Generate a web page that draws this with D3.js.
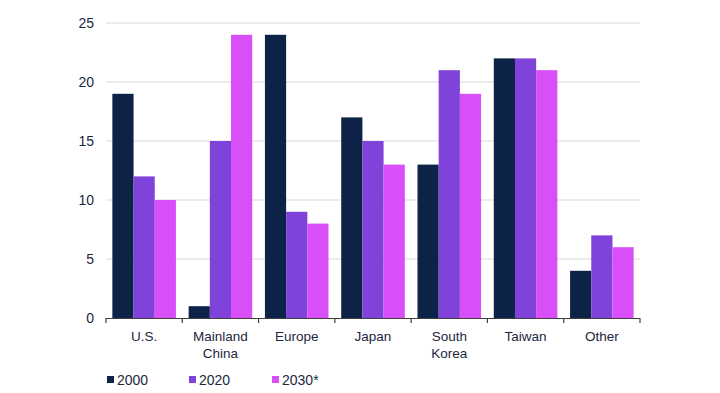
<!DOCTYPE html>
<html>
<head>
<meta charset="utf-8">
<script src="https://cdn.jsdelivr.net/npm/d3@7"></script>
<style>
  body { margin: 0; background: #fff; }
  text { font-family: "Liberation Sans Narrow", "Arial Narrow", "Liberation Sans", Arial, sans-serif; fill: #1b2840; }
</style>
</head>
<body>
<div id="chart"></div>
<script>
// chart data
var regions = ["U.S.", "Mainland China", "Europe", "Japan", "South Korea", "Taiwan", "Other"];
var years = ["2000", "2020", "2030*"];
var share2000 = [19, 1, 24, 17, 13, 22, 4];
var share2020 = [12, 15, 9, 15, 21, 22, 7];
var share2030 = [10, 24, 8, 13, 19, 21, 6];
var yTicks = [0, 5, 10, 15, 20, 25];

var colors = ["#0c2246", "#8043d9", "#d94ff7"];
var seriesVals = [share2000, share2020, share2030];

var width = 720, height = 393;
var margin = {top: 23, right: 80, bottom: 75, left: 106};

var svg = d3.select("#chart").append("svg")
  .attr("width", width)
  .attr("height", height);

var x0 = d3.scaleBand()
  .domain(regions)
  .range([margin.left, width - margin.right])
  .padding(0);

var x1 = d3.scaleBand()
  .domain(years)
  .range([0, x0.bandwidth()])
  .paddingInner(0)
  .paddingOuter(0.3);

var y = d3.scaleLinear()
  .domain([0, 25])
  .range([height - margin.bottom, margin.top]);

// gridlines
svg.append("g")
  .selectAll("line")
  .data(yTicks.slice(1))
  .enter().append("line")
  .attr("x1", margin.left)
  .attr("x2", width - margin.right)
  .attr("y1", function(d) { return y(d); })
  .attr("y2", function(d) { return y(d); })
  .attr("stroke", "#d9d9d9")
  .attr("stroke-width", 1);

// y labels
svg.append("g")
  .selectAll("text")
  .data(yTicks)
  .enter().append("text")
  .attr("x", margin.left - 12)
  .attr("y", function(d) { return y(d); })
  .attr("dy", "0.35em")
  .attr("text-anchor", "end")
  .style("font-size", "14px")
  .text(function(d) { return d; });

// bars
var groups = svg.append("g")
  .selectAll("g")
  .data(regions)
  .enter().append("g")
  .attr("transform", function(d) { return "translate(" + x0(d) + ",0)"; });

groups.selectAll("rect")
  .data(function(d, i) {
    return years.map(function(yr, j) { return {year: yr, value: seriesVals[j][i], idx: j}; });
  })
  .enter().append("rect")
  .attr("x", function(d) { return x1(d.year); })
  .attr("width", x1.bandwidth())
  .attr("y", function(d) { return y(d.value); })
  .attr("height", function(d) { return y(0) - y(d.value); })
  .attr("fill", function(d) { return colors[d.idx]; });

// x axis line with ticks on category boundaries
var base = y(0);
svg.append("line")
  .attr("x1", margin.left)
  .attr("x2", width - margin.right)
  .attr("y1", base + 0.5)
  .attr("y2", base + 0.5)
  .attr("stroke", "#404040")
  .attr("stroke-width", 1.2);

var bounds = regions.map(function(r) { return x0(r); }).concat([width - margin.right]);
svg.append("g")
  .selectAll("line")
  .data(bounds)
  .enter().append("line")
  .attr("x1", function(d) { return d; })
  .attr("x2", function(d) { return d; })
  .attr("y1", base)
  .attr("y2", base + 5)
  .attr("stroke", "#404040")
  .attr("stroke-width", 1.2);

// category labels (wrapped)
var labels = svg.append("g")
  .selectAll("text")
  .data(regions)
  .enter().append("text")
  .attr("x", function(d) { return x0(d) + x0.bandwidth() / 2; })
  .attr("y", base + 23)
  .attr("text-anchor", "middle")
  .style("font-size", "13.5px");

labels.each(function(d) {
  var words = d.split(" ");
  var t = d3.select(this);
  words.forEach(function(w, i) {
    t.append("tspan")
      .attr("x", t.attr("x"))
      .attr("dy", i === 0 ? 0 : 17)
      .text(w);
  });
});

// legend
var legendX = [107, 189, 272];
var leg = svg.append("g")
  .selectAll("g")
  .data(years)
  .enter().append("g")
  .attr("transform", function(d, i) { return "translate(" + legendX[i] + ",380)"; });

leg.append("rect")
  .attr("x", 0)
  .attr("y", -4)
  .attr("width", 7)
  .attr("height", 7)
  .attr("fill", function(d, i) { return colors[i]; });

leg.append("text")
  .attr("x", 10)
  .attr("y", 0)
  .attr("dy", "0.35em")
  .style("font-size", "14px")
  .text(function(d) { return d; });
</script>
</body>
</html>
